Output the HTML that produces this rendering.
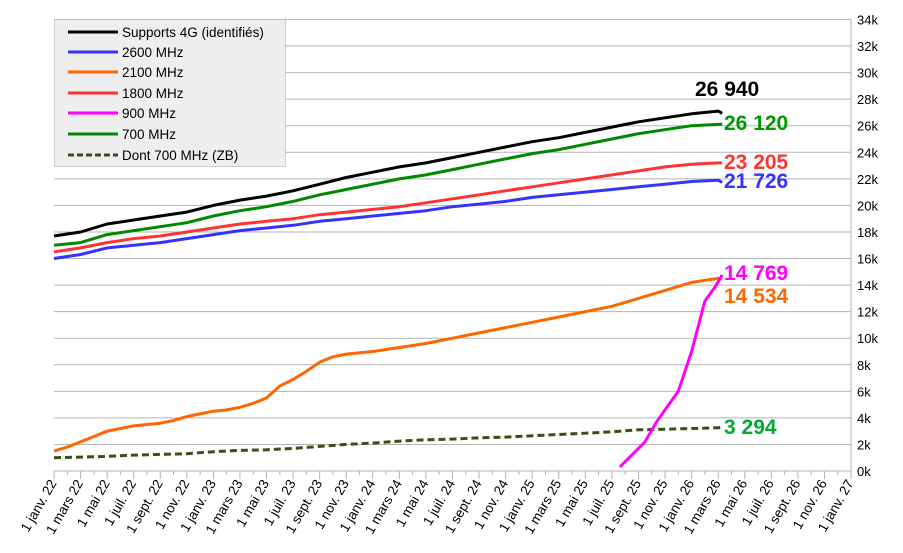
<!DOCTYPE html>
<html><head><meta charset="utf-8"><style>
body{margin:0;background:#fff;}
svg{display:block;font-family:"Liberation Sans",sans-serif;}
</style></head><body>
<svg id="chart" width="903" height="553" viewBox="0 0 903 553" xmlns="http://www.w3.org/2000/svg">
<g id="grid"></g>
<g id="axes"></g>
<g id="series"></g>
<g id="labels"></g>
<g>
<rect x="54.5" y="19.5" width="231" height="147" fill="#eeeeee" stroke="#aaa" stroke-dasharray="1,1"/>
<g font-size="13.5" fill="#000">
<line x1="68" x2="118" y1="32" y2="32" stroke="#000" stroke-width="3"/><text x="122" y="37">Supports 4G (identifiés)</text>
<line x1="68" x2="118" y1="52" y2="52" stroke="#3333ff" stroke-width="3"/><text x="122" y="57">2600 MHz</text>
<line x1="68" x2="118" y1="72" y2="72" stroke="#ff6600" stroke-width="3"/><text x="122" y="77">2100 MHz</text>
<line x1="68" x2="118" y1="93" y2="93" stroke="#ff3333" stroke-width="3"/><text x="122" y="98">1800 MHz</text>
<line x1="68" x2="118" y1="113" y2="113" stroke="#ff00ff" stroke-width="3"/><text x="122" y="118">900 MHz</text>
<line x1="68" x2="118" y1="134" y2="134" stroke="#008800" stroke-width="3"/><text x="122" y="139">700 MHz</text>
<line x1="68" x2="118" y1="155" y2="155" stroke="#3d4d1a" stroke-width="3" stroke-dasharray="6,3"/><text x="122" y="160">Dont 700 MHz (ZB)</text>
</g></g>
</svg>
<script>
const xTickLabels=["1 janv. 22","1 mars 22","1 mai 22","1 juil. 22","1 sept. 22","1 nov. 22","1 janv. 23","1 mars 23","1 mai 23","1 juil. 23","1 sept. 23","1 nov. 23","1 janv. 24","1 mars 24","1 mai 24","1 juil. 24","1 sept. 24","1 nov. 24","1 janv. 25","1 mars 25","1 mai 25","1 juil. 25","1 sept. 25","1 nov. 25","1 janv. 26","1 mars 26","1 mai 26","1 juil. 26","1 sept. 26","1 nov. 26","1 janv. 27"];
const yTicks=[0,2,4,6,8,10,12,14,16,18,20,22,24,26,28,30,32,34];
const months=[0,2,4,6,8,10,12,14,16,18,20,22,24,26,28,30,32,34,36,38,40,42,44,46,48,50,50.3];
const total=[17.7,18.0,18.6,18.9,19.2,19.5,20.0,20.4,20.7,21.1,21.6,22.1,22.5,22.9,23.2,23.6,24.0,24.4,24.8,25.1,25.5,25.9,26.3,26.6,26.9,27.1,26.94];
const mhz700=[17.0,17.2,17.8,18.1,18.4,18.7,19.2,19.6,19.9,20.3,20.8,21.2,21.6,22.0,22.3,22.7,23.1,23.5,23.9,24.2,24.6,25.0,25.4,25.7,26.0,26.1,26.12];
const mhz1800=[16.5,16.8,17.2,17.5,17.7,18.0,18.3,18.6,18.8,19.0,19.3,19.5,19.7,19.9,20.2,20.5,20.8,21.1,21.4,21.7,22.0,22.3,22.6,22.9,23.1,23.2,23.205];
const mhz2600=[16.0,16.3,16.8,17.0,17.2,17.5,17.8,18.1,18.3,18.5,18.8,19.0,19.2,19.4,19.6,19.9,20.1,20.3,20.6,20.8,21.0,21.2,21.4,21.6,21.8,21.9,21.726];
const months2100=[0,1,2,3,4,5,6,7,8,9,10,11,12,13,14,15,16,17,18,19,20,21,22,24,26,28,30,32,34,36,38,40,42,44,46,48,50,50.3];
const mhz2100=[1.5,1.8,2.2,2.6,3.0,3.2,3.4,3.5,3.6,3.8,4.1,4.3,4.5,4.6,4.8,5.1,5.5,6.4,6.9,7.5,8.2,8.6,8.8,9.0,9.3,9.6,10.0,10.4,10.8,11.2,11.6,12.0,12.4,13.0,13.6,14.2,14.5,14.534];
const zb700=[1.0,1.05,1.1,1.2,1.25,1.3,1.45,1.55,1.6,1.7,1.85,2.0,2.1,2.25,2.35,2.4,2.5,2.55,2.65,2.75,2.85,2.95,3.1,3.15,3.2,3.25,3.294];
const months900=[42.6,43.5,44.5,45.3,46,47,48,49,49.8,50.3];
const mhz900=[0.3,1.2,2.2,3.6,4.6,6.0,9.0,12.8,13.9,14.769];
const endLabels=["26 940","26 120","23 205","21 726","14 769","14 534","3 294"];

const NS="http://www.w3.org/2000/svg";
const X0=54,X1=851,Y0=471,YT=19.5;
const xs=m=>X0+m*(X1-X0)/60;
const ys=v=>Y0-v*(Y0-YT)/34;
function mk(t,a,p){const e=document.createElementNS(NS,t);for(const k in a)e.setAttribute(k,a[k]);p.appendChild(e);return e;}
const grid=document.getElementById('grid'),axes=document.getElementById('axes'),ser=document.getElementById('series'),lab=document.getElementById('labels');
yTicks.forEach(v=>{
 const l=mk('line',{x1:X0,x2:X1,y1:ys(v),y2:ys(v),stroke:'#b3b3b3','stroke-width':1},grid);
 
 
 const t=mk('text',{x:857,y:ys(v)+5,'font-size':13},axes);t.textContent=v+'k';
 
 
});
mk('line',{x1:X1,x2:X1,y1:YT,y2:Y0,stroke:'#b3b3b3'},axes);
mk('line',{x1:X0,x2:X0,y1:Y0,y2:Y0+8,stroke:'#b3b3b3'},axes);
for(let m=0;m<=60;m++){mk('line',{x1:xs(m),x2:xs(m),y1:Y0,y2:Y0+(m%2?4:8),stroke:'#b3b3b3'},axes);}
xTickLabels.forEach((s,i)=>{
 const x=xs(i*2)+3,y=Y0+12;
 const t=mk('text',{x:x,y:y,'font-size':13.5,'text-anchor':'end',transform:`rotate(-60 ${x} ${y})`},axes);t.textContent=s;
 
 
});
function line(mx,vals,color,name,dash){
 const d=vals.map((v,i)=>(i?'L':'M')+xs(mx[i]).toFixed(1)+' '+ys(v).toFixed(1)).join(' ');
 const p=mk('path',{d:d,fill:'none',stroke:color,'stroke-width':3,'stroke-linejoin':'round'},ser);
 if(dash)p.setAttribute('stroke-dasharray',dash);
 
 
}
line(months,zb700,'#3d4d1a','series-700-zb','7,4');
line(months2100,mhz2100,'#ff6600','series-2100');
line(months,mhz2600,'#3333ff','series-2600');
line(months,mhz1800,'#ff3333','series-1800');
line(months,mhz700,'#008800','series-700');
line(months,total,'#000','series-supports-4g');
line(months900,mhz900,'#ff00ff','series-900');
const lp=[[695,96,'#000'],[724,130,'#009900'],[724,169,'#ff3333'],[724,188,'#3333ff'],[724,280,'#ff00ff'],[724,303,'#ff6600'],[724,434,'#00aa33']];
endLabels.forEach((s,i)=>{
 const t=mk('text',{x:lp[i][0],y:lp[i][1],'font-size':21,'font-weight':'bold',fill:lp[i][2]},lab);t.textContent=s;
 
 
});
</script>
</body></html>
